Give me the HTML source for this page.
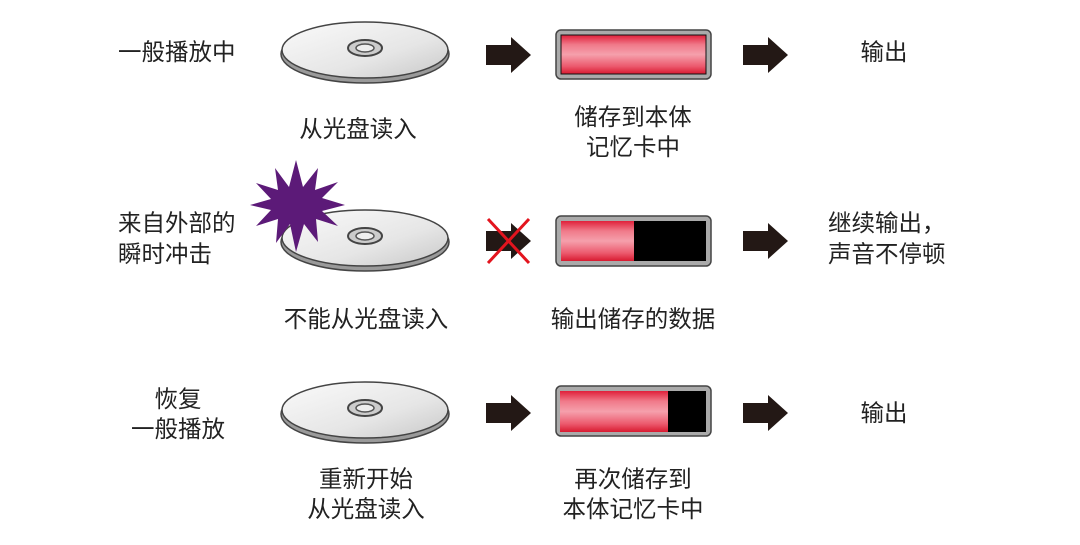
<!DOCTYPE html>
<html><head><meta charset="utf-8"><style>
html,body{margin:0;padding:0;background:#fff}
svg text{font-family:"Liberation Sans","Noto Sans CJK SC",sans-serif;font-size:23.5px;fill:#222}
</style></head><body>
<svg width="1080" height="540" viewBox="0 0 1080 540" xmlns="http://www.w3.org/2000/svg">
<defs>
<linearGradient id="disc" x1="0" y1="0" x2="1" y2="1">
<stop offset="0" stop-color="#fafafa"/><stop offset="0.6" stop-color="#e6e6e6"/><stop offset="1" stop-color="#c8c8c8"/></linearGradient>
<linearGradient id="red" x1="0" y1="0" x2="0" y2="1">
<stop offset="0" stop-color="#e0203a"/><stop offset="0.25" stop-color="#f07a8a"/><stop offset="0.5" stop-color="#f5a0ac"/><stop offset="0.8" stop-color="#ec5a6e"/><stop offset="1" stop-color="#d81a30"/></linearGradient>
<g id="cd">
<ellipse cx="0" cy="4" rx="84" ry="29" fill="#9a9a9a" stroke="#444" stroke-width="1.5"/>
<ellipse cx="0" cy="0" rx="83" ry="28" fill="url(#disc)" stroke="#444" stroke-width="1.5"/>
<ellipse cx="0" cy="-2" rx="17" ry="8" fill="#ccc" stroke="#444" stroke-width="2"/>
<ellipse cx="0" cy="-2" rx="9" ry="4" fill="#eee" stroke="#555" stroke-width="1.5"/>
</g>
<path id="arr" d="M0,-10 H25 V-18 L45,0 L25,18 V10 H0 Z" fill="#231815"/>
</defs>

<!-- row 1 -->
<text x="118" y="60">一般播放中</text>
<use href="#cd" x="365" y="50"/>
<text x="358" y="137" text-anchor="middle">从光盘读入</text>
<use href="#arr" x="486" y="55"/>
<rect x="556" y="30" width="155" height="49" rx="5" fill="#aaa" stroke="#444" stroke-width="1.5"/>
<rect x="561" y="35" width="145" height="39" fill="url(#red)" stroke="#111" stroke-width="1"/>
<text x="633" y="125" text-anchor="middle">储存到本体</text>
<text x="633" y="155" text-anchor="middle">记忆卡中</text>
<use href="#arr" x="743" y="55"/>
<text x="884" y="60" text-anchor="middle">输出</text>

<!-- row 2 -->
<text x="118" y="231">来自外部的</text>
<text x="118" y="262">瞬时冲击</text>
<use href="#cd" x="365" y="238"/>
<polygon fill="#5c1a78" points="296,160 303,187 318,168 315,190 338,182 322,198 345,205 322,211 338,226 316,219 318,242 304,224 296,252 290,224 276,243 278,219 256,226 271,210 250,205 271,199 256,183 278,190 275,168 289,187"/>
<text x="366" y="327" text-anchor="middle">不能从光盘读入</text>
<use href="#arr" x="486" y="241"/>
<line x1="488" y1="219" x2="529" y2="263" stroke="#e3141e" stroke-width="3"/>
<line x1="529" y1="219" x2="488" y2="263" stroke="#e3141e" stroke-width="3"/>
<rect x="556" y="216" width="155" height="50" rx="5" fill="#aaa" stroke="#444" stroke-width="1.5"/>
<rect x="561" y="221" width="145" height="40" fill="#000"/>
<rect x="561" y="221" width="73" height="40" fill="url(#red)"/>
<text x="633" y="327" text-anchor="middle">输出储存的数据</text>
<use href="#arr" x="743" y="241"/>
<text x="828" y="231">继续输出，</text>
<text x="828" y="262">声音不停顿</text>

<!-- row 3 -->
<text x="178" y="407" text-anchor="middle">恢复</text>
<text x="178" y="437" text-anchor="middle">一般播放</text>
<use href="#cd" x="365" y="410"/>
<text x="366" y="487" text-anchor="middle">重新开始</text>
<text x="366" y="517" text-anchor="middle">从光盘读入</text>
<use href="#arr" x="486" y="413"/>
<rect x="556" y="386" width="155" height="50" rx="5" fill="#aaa" stroke="#444" stroke-width="1.5"/>
<rect x="560" y="391" width="146" height="41" fill="#000"/>
<rect x="560" y="391" width="108" height="41" fill="url(#red)"/>
<text x="633" y="487" text-anchor="middle">再次储存到</text>
<text x="633" y="517" text-anchor="middle">本体记忆卡中</text>
<use href="#arr" x="743" y="413"/>
<text x="884" y="421" text-anchor="middle">输出</text>
</svg>
</body></html>
